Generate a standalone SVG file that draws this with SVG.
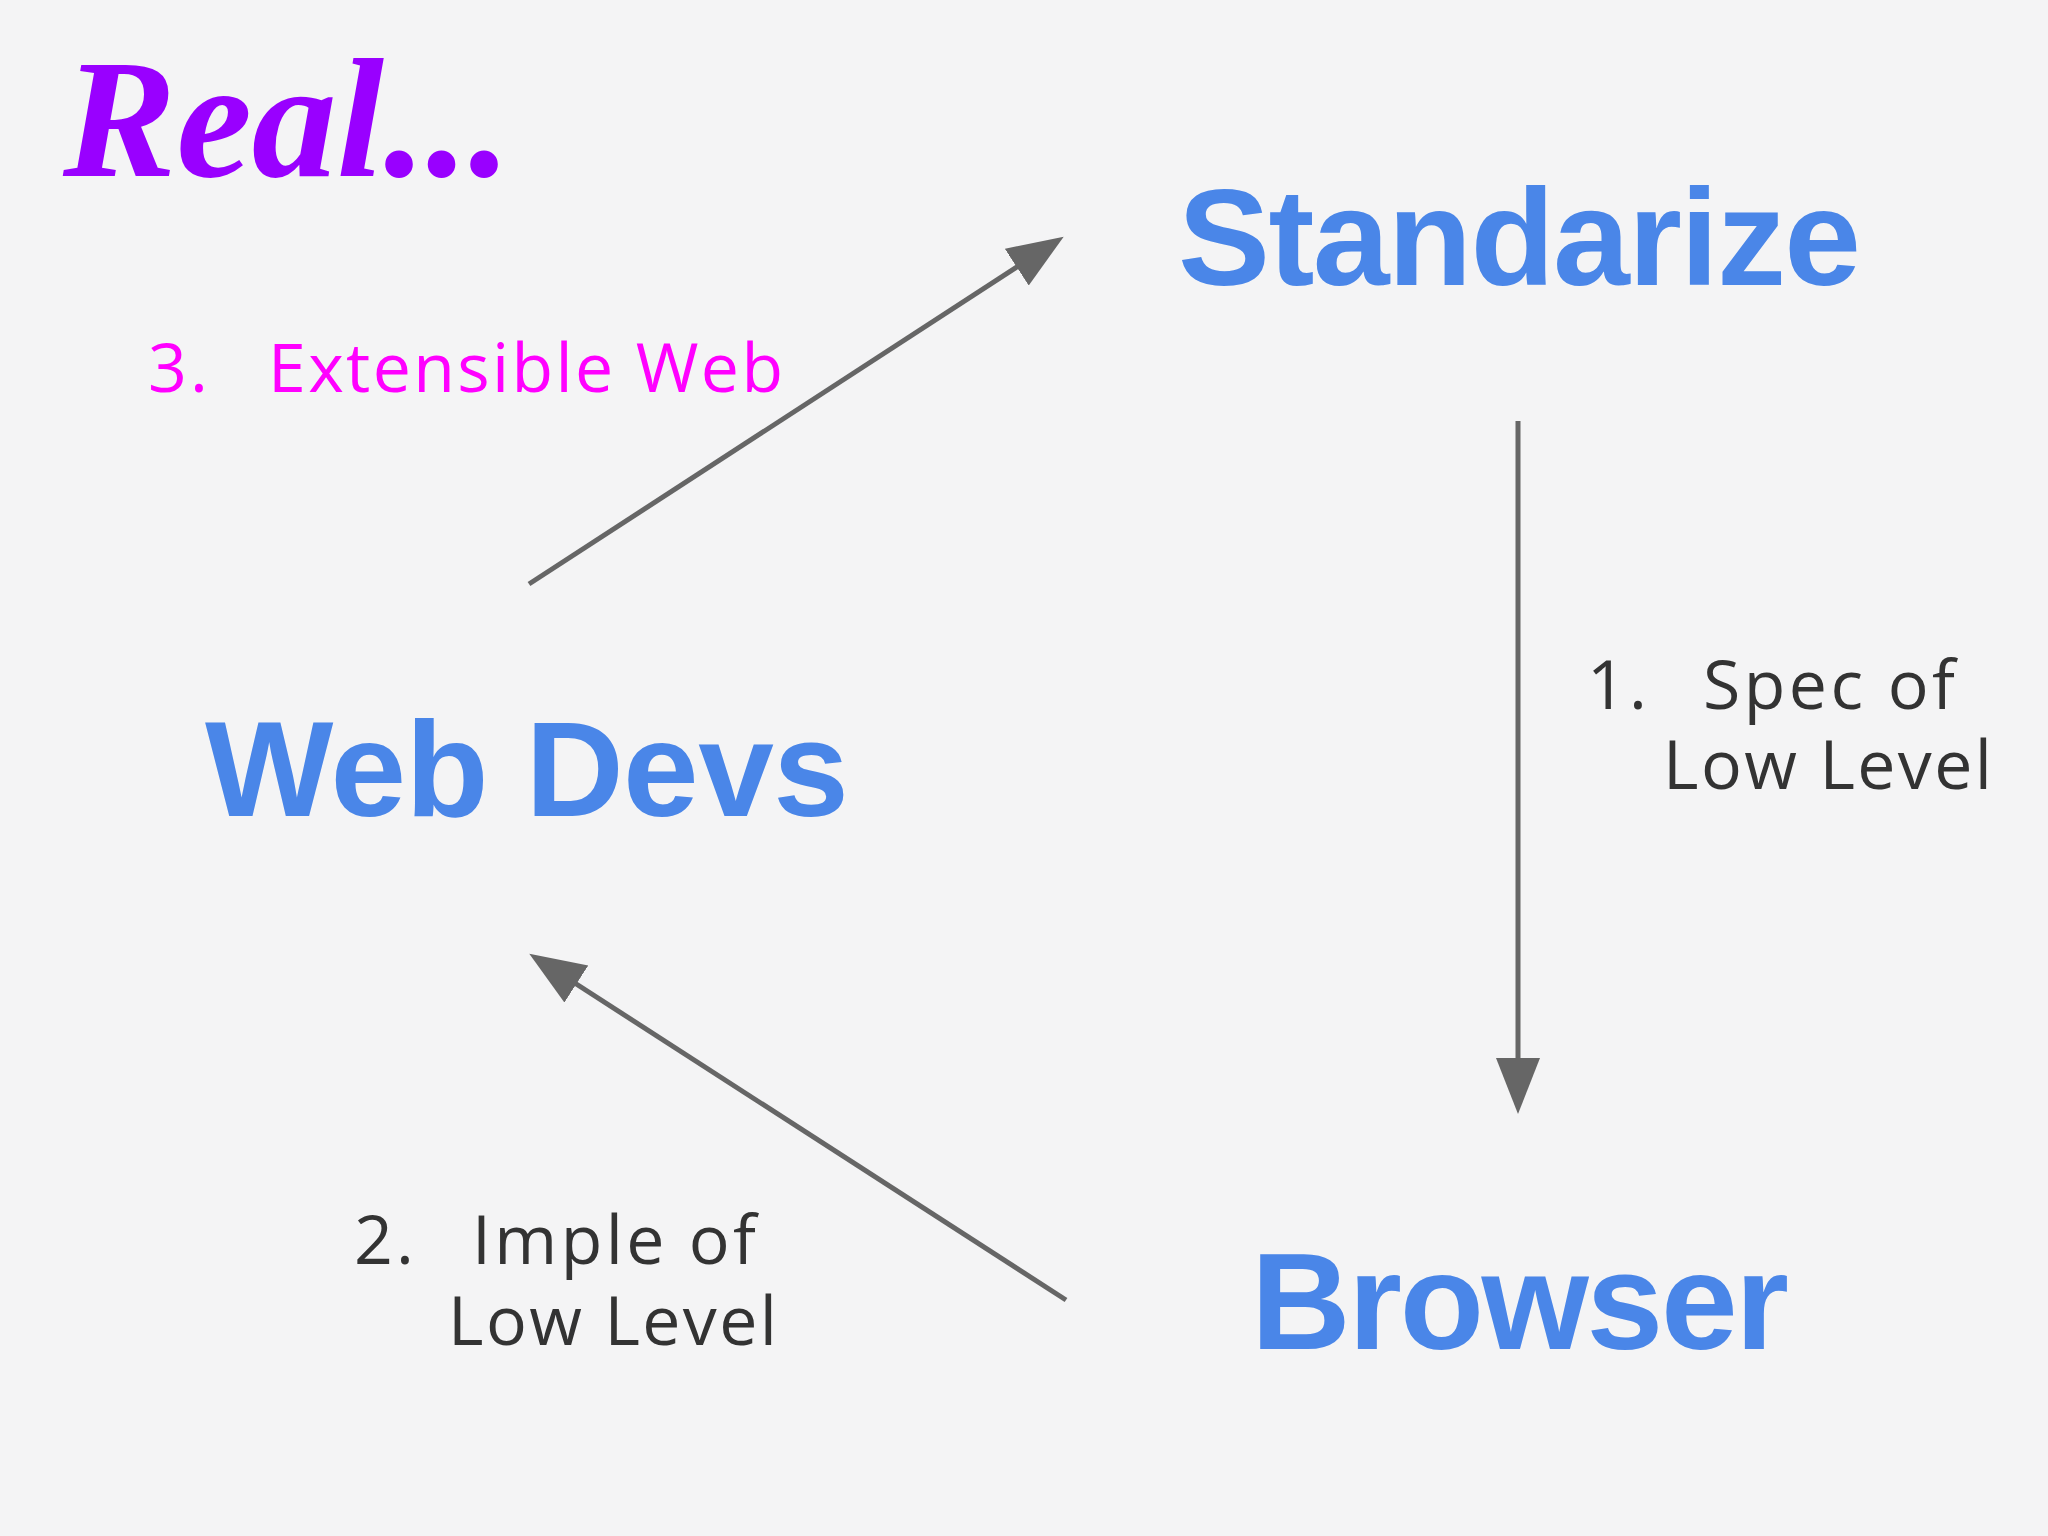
<svg xmlns="http://www.w3.org/2000/svg" width="2048" height="1536" viewBox="0 0 2048 1536">
<defs>
<style>
.node{font-family:"Liberation Sans",Arial,sans-serif;font-weight:bold;fill:#4a86e8}
.lbl{font-family:"Open Sans","DejaVu Sans",sans-serif;font-size:68px;fill:#333;letter-spacing:3px}
.conn{stroke:#666;stroke-width:5;fill:none;marker-end:url(#ah)}
</style>
<marker id="ah" markerUnits="userSpaceOnUse" markerWidth="60" markerHeight="50" refX="48" refY="22" orient="auto">
<path d="M0,0 L56,22 L0,44 Z" fill="#666"/>
</marker>
</defs>
<rect width="2048" height="1536" fill="#f4f4f5"/>
<g id="title"><text x="63" y="176" font-family="'Liberation Serif','Times New Roman',serif" font-weight="bold" font-style="italic" font-size="170" fill="#9900ff">Real...</text></g>
<g id="standarize"><text class="node" x="1178" y="285" font-size="138" textLength="683">Standarize</text></g>
<g id="webdevs"><text class="node" x="205" y="816" font-size="136" textLength="644">Web Devs</text></g>
<g id="browser"><text class="node" x="1251" y="1349" font-size="138" textLength="538">Browser</text></g>
<g id="connectors">
<path class="conn" d="M529,584 L1057,241"/>
<path class="conn" d="M1518,421 L1518,1106"/>
<path class="conn" d="M1066,1300 L536,958"/>
</g>
<g id="labels">
<text class="lbl" x="148" y="392" style="fill:#ff00ff">3.</text>
<text class="lbl" x="268" y="392" style="fill:#ff00ff" textLength="518">Extensible Web</text>
<text class="lbl" x="1587" y="709">1.</text>
<text class="lbl" x="1703" y="709" textLength="255">Spec of</text>
<text class="lbl" x="1663" y="789" textLength="332">Low Level</text>
<text class="lbl" x="354" y="1264">2.</text>
<text class="lbl" x="472" y="1264" textLength="287">Imple of</text>
<text class="lbl" x="448" y="1345" textLength="332">Low Level</text>
</g>
</svg>
